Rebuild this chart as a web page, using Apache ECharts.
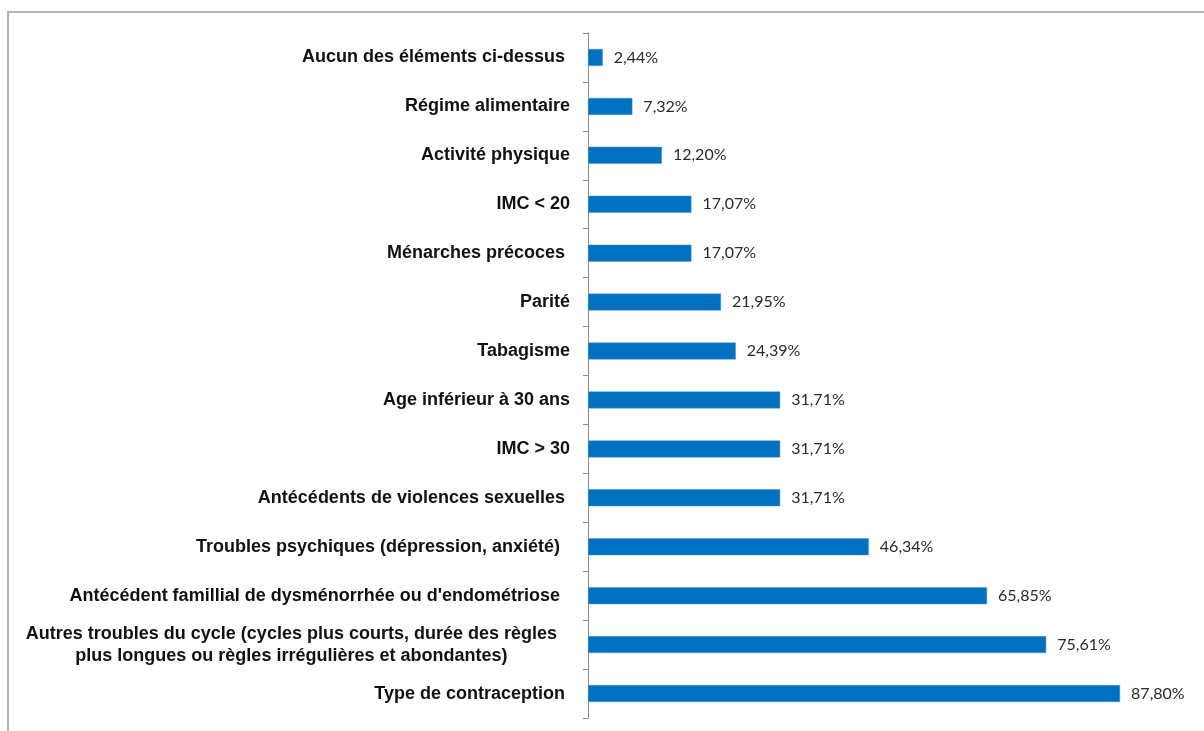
<!DOCTYPE html>
<html><head><meta charset="utf-8">
<script src="https://cdn.jsdelivr.net/npm/echarts@6/dist/echarts.min.js"></script>
<style>html,body{margin:0;padding:0;background:#fff}#c{width:1204px;height:731px}</style>
</head><body><div id="c"></div>
<script>
const categories = [
  "Aucun des éléments ci-dessus ",
  "Régime alimentaire",
  "Activité physique",
  "IMC < 20",
  "Ménarches précoces ",
  "Parité",
  "Tabagisme",
  "Age inférieur à 30 ans",
  "IMC > 30",
  "Antécédents de violences sexuelles ",
  "Troubles psychiques (dépression, anxiété)  ",
  "Antécédent famillial de dysménorrhée ou d'endométriose  ",
  "Autres troubles du cycle (cycles plus courts, durée des règles\nplus longues ou règles irrégulières et abondantes)",
  "Type de contraception "
];
const values = [2.44, 7.32, 12.20, 17.07, 17.07, 21.95, 24.39, 31.71, 31.71, 31.71, 46.34, 65.85, 75.61, 87.80];

const labelFont = {fontFamily: 'Liberation Sans, Arial, sans-serif', fontWeight: 'bold', fontSize: 18, color: '#111'};

const chart = echarts.init(document.getElementById('c'), null, {renderer:'canvas'});
chart.setOption({
  animation: false,
  backgroundColor: '#fff',
  graphic: [{
    type: 'rect', z: -1,
    shape: {x: 8, y: 12, width: 1300, height: 800},
    style: {fill: 'none', stroke: '#b3b3b3', lineWidth: 2}
  }],
  grid: {left: 588, right: 10, top: 33, bottom: 13, containLabel: false},
  xAxis: {
    type: 'value', min: 0, max: 100, show: false
  },
  yAxis: {
    type: 'category', inverse: true, data: categories,
    axisLine: {show: true, lineStyle: {color: '#8c8c8c', width: 1}},
    axisTick: {show: true, length: 5, lineStyle: {color: '#8c8c8c'}},
    axisLabel: Object.assign({
      margin: 18, lineHeight: 22, align: 'right',
      formatter: v => v.indexOf('\n') >= 0 ? v.split('\n').map(s => '{c|' + s + '}').join('\n') : v,
      rich: {c: Object.assign({align: 'center', lineHeight: 22, padding: [0, 13, 0, 0]}, labelFont)}
    }, labelFont)
  },
  series: [{
    type: 'bar', data: values, barWidth: 17,
    itemStyle: {color: '#0070C0', borderColor: '#4f9ad6', borderWidth: 0.5},
    label: {
      show: true, position: 'right', distance: 11,
      fontFamily: 'Lato, sans-serif', fontSize: 16, color: '#2a2a2a',
      formatter: p => p.value.toFixed(2).replace('.', ',') + '%'
    }
  }]
});
</script></body></html>
